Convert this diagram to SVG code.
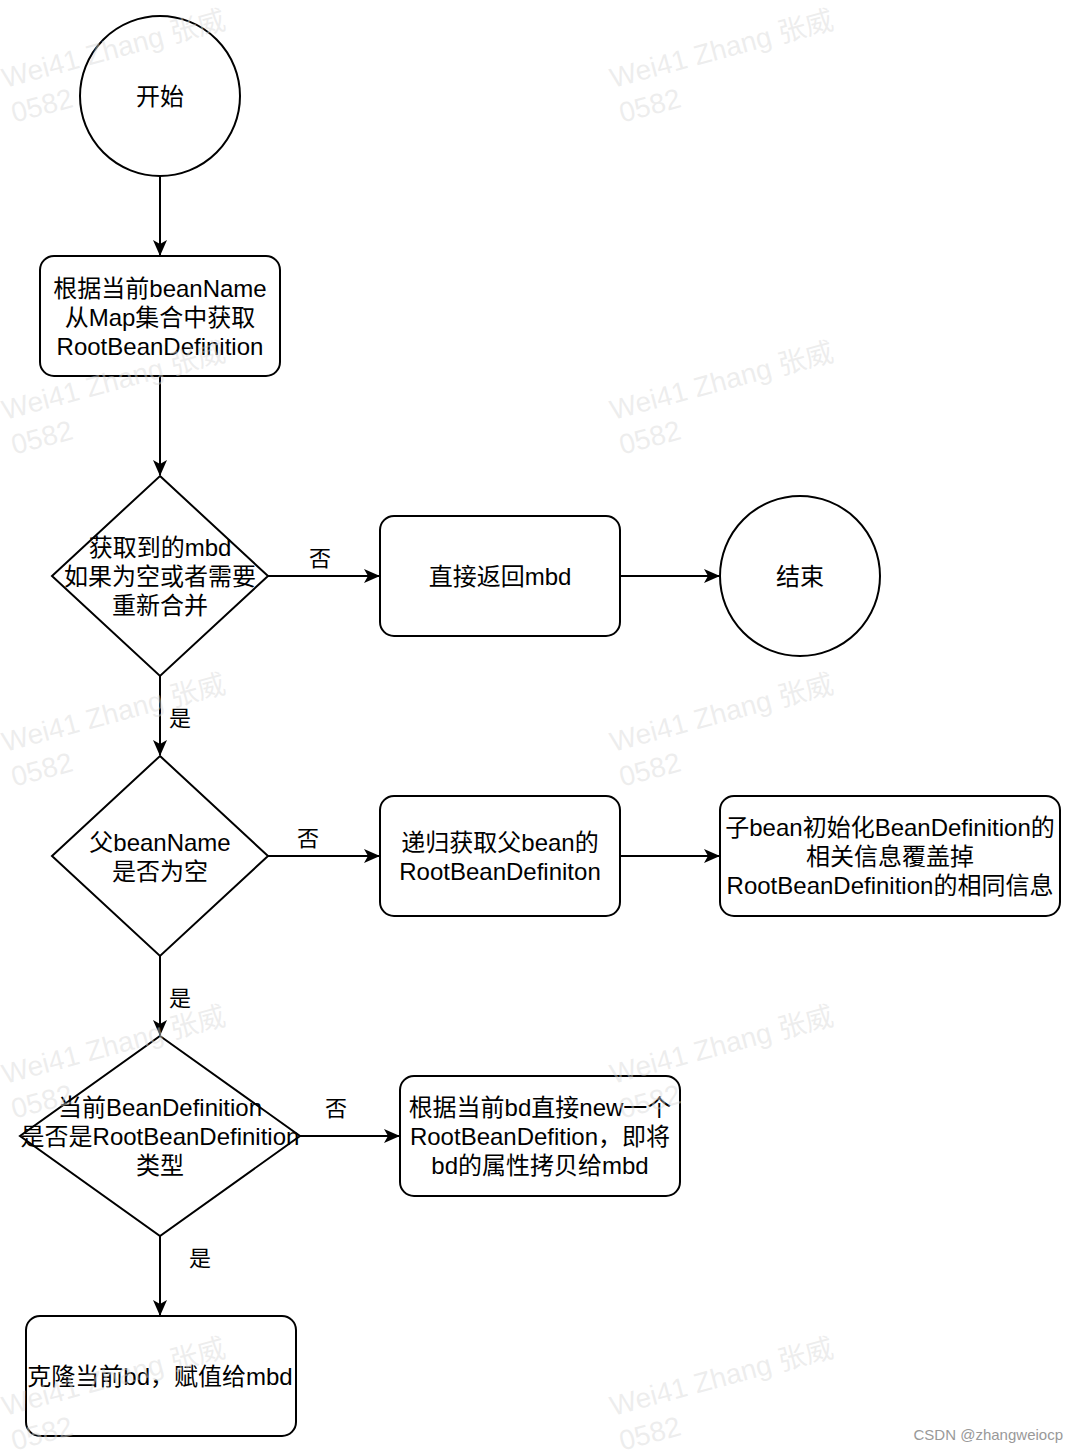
<svg xmlns="http://www.w3.org/2000/svg" width="1078" height="1454" viewBox="0 0 1078 1454">
<style>
.s{fill:#fff;stroke:#000;stroke-width:2}
.t{font-family:"Liberation Sans","Noto Sans CJK SC",sans-serif;font-size:24px;fill:#000;text-anchor:middle;dominant-baseline:central}
.l{font-family:"Noto Sans CJK SC","Liberation Sans",sans-serif;font-size:22px;fill:#000;text-anchor:middle;dominant-baseline:central}
.c{fill:none;stroke:#000;stroke-width:2}
.w{font-family:"Liberation Sans","Noto Sans CJK SC",sans-serif;font-size:28px;fill:#d8d8d8;fill-opacity:0.45}
</style>
<defs>
<marker id="a" markerWidth="16" markerHeight="14" refX="15" refY="7" orient="auto" markerUnits="userSpaceOnUse" viewBox="0 0 16 14">
<path d="M0,0 L16,7 L0,14 L4,7 Z" fill="#000"/>
</marker>
</defs>
<rect width="1078" height="1454" fill="#fff"/>
<g id="connectors">
<path class="c" d="M160,176 V255" marker-end="url(#a)"/>
<path class="c" d="M160,376 V475" marker-end="url(#a)"/>
<path class="c" d="M268,576 H379" marker-end="url(#a)"/>
<path class="c" d="M620,576 H719" marker-end="url(#a)"/>
<path class="c" d="M160,676 V755" marker-end="url(#a)"/>
<path class="c" d="M268,856 H379" marker-end="url(#a)"/>
<path class="c" d="M620,856 H719" marker-end="url(#a)"/>
<path class="c" d="M160,956 V1035" marker-end="url(#a)"/>
<path class="c" d="M300,1136 H399" marker-end="url(#a)"/>
<path class="c" d="M160,1236 V1315" marker-end="url(#a)"/>
<text class="l" x="320" y="556">否</text>
<text class="l" x="180" y="716">是</text>
<text class="l" x="308" y="836">否</text>
<text class="l" x="180" y="996">是</text>
<text class="l" x="336" y="1106">否</text>
<text class="l" x="200" y="1256">是</text>
</g>
<g id="start"><circle class="s" cx="160" cy="96" r="80"/><text class="t" x="160" y="96">开始</text></g>
<g id="getRbd"><rect class="s" x="40" y="256" width="240" height="120" rx="14"/>
<text class="t" x="160" y="288">根据当前beanName</text><text class="t" x="160" y="317">从Map集合中获取</text><text class="t" x="160" y="346">RootBeanDefinition</text></g>
<g id="d1"><path class="s" d="M160,476 L268,576 L160,676 L52,576 Z"/>
<text class="t" x="160" y="547">获取到的mbd</text><text class="t" x="160" y="576">如果为空或者需要</text><text class="t" x="160" y="605">重新合并</text></g>
<g id="ret"><rect class="s" x="380" y="516" width="240" height="120" rx="14"/><text class="t" x="500" y="576">直接返回mbd</text></g>
<g id="end"><circle class="s" cx="800" cy="576" r="80"/><text class="t" x="800" y="576">结束</text></g>
<g id="d2"><path class="s" d="M160,756 L268,856 L160,956 L52,856 Z"/>
<text class="t" x="160" y="842">父beanName</text><text class="t" x="160" y="871">是否为空</text></g>
<g id="recur"><rect class="s" x="380" y="796" width="240" height="120" rx="14"/>
<text class="t" x="500" y="842">递归获取父bean的</text><text class="t" x="500" y="871">RootBeanDefiniton</text></g>
<g id="override"><rect class="s" x="720" y="796" width="340" height="120" rx="14"/>
<text class="t" x="890" y="827">子bean初始化BeanDefinition的</text><text class="t" x="890" y="856">相关信息覆盖掉</text><text class="t" x="890" y="885">RootBeanDefinition的相同信息</text></g>
<g id="d3"><path class="s" d="M160,1036 L300,1136 L160,1236 L20,1136 Z"/>
<text class="t" x="160" y="1107">当前BeanDefinition</text><text class="t" x="160" y="1136">是否是RootBeanDefinition</text><text class="t" x="160" y="1165">类型</text></g>
<g id="newRbd"><rect class="s" x="400" y="1076" width="280" height="120" rx="14"/>
<text class="t" x="540" y="1107">根据当前bd直接new一个</text><text class="t" x="540" y="1136">RootBeanDefition，即将</text><text class="t" x="540" y="1165">bd的属性拷贝给mbd</text></g>
<g id="clone"><rect class="s" x="26" y="1316" width="270" height="120" rx="14"/><text class="t" x="160" y="1376">克隆当前bd，赋值给mbd</text></g>
<g id="watermarks">
<g transform="translate(5,88) rotate(-15)"><text class="w">Wei41 Zhang 张威</text><text class="w" x="0" y="36">0582</text></g>
<g transform="translate(613,88) rotate(-15)"><text class="w">Wei41 Zhang 张威</text><text class="w" x="0" y="36">0582</text></g>
<g transform="translate(5,420) rotate(-15)"><text class="w">Wei41 Zhang 张威</text><text class="w" x="0" y="36">0582</text></g>
<g transform="translate(613,420) rotate(-15)"><text class="w">Wei41 Zhang 张威</text><text class="w" x="0" y="36">0582</text></g>
<g transform="translate(5,752) rotate(-15)"><text class="w">Wei41 Zhang 张威</text><text class="w" x="0" y="36">0582</text></g>
<g transform="translate(613,752) rotate(-15)"><text class="w">Wei41 Zhang 张威</text><text class="w" x="0" y="36">0582</text></g>
<g transform="translate(5,1084) rotate(-15)"><text class="w">Wei41 Zhang 张威</text><text class="w" x="0" y="36">0582</text></g>
<g transform="translate(613,1084) rotate(-15)"><text class="w">Wei41 Zhang 张威</text><text class="w" x="0" y="36">0582</text></g>
<g transform="translate(5,1416) rotate(-15)"><text class="w">Wei41 Zhang 张威</text><text class="w" x="0" y="36">0582</text></g>
<g transform="translate(613,1416) rotate(-15)"><text class="w">Wei41 Zhang 张威</text><text class="w" x="0" y="36">0582</text></g>
</g>
<text x="1063" y="1440" style="font-family:'Liberation Sans',sans-serif;font-size:15px;fill:#999;text-anchor:end">CSDN @zhangweiocp</text>
</svg>
